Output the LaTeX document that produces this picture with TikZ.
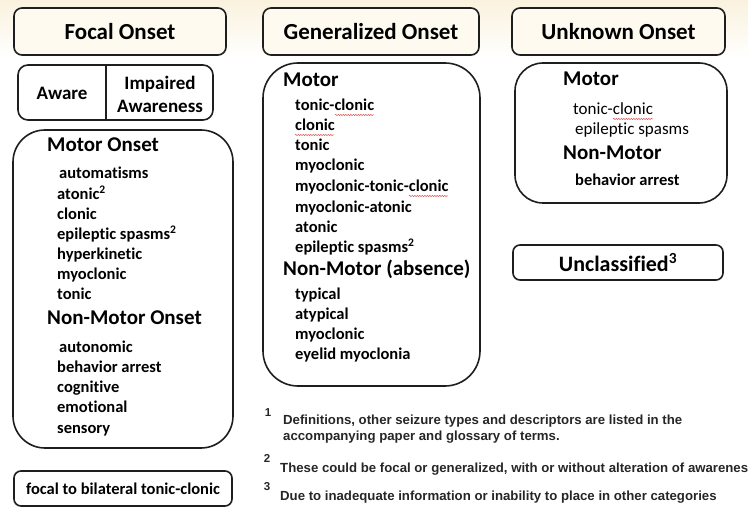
\documentclass[tikz,border=0pt]{standalone}
\usepackage{fontspec}
\setmainfont{Carlito}[Ligatures=NoCommon]
\newfontfamily\notefont{Liberation Sans}
\usetikzlibrary{decorations.pathmorphing}

\definecolor{bandcream}{RGB}{250,242,222}
\definecolor{hdrfill}{RGB}{254,250,240}
\definecolor{boxline}{RGB}{30,30,30}
\definecolor{spellred}{RGB}{215,70,70}

\begin{document}
\begin{tikzpicture}[x=1pt,y=-1pt,
    hdr/.style={draw=boxline,line width=1.6pt,rounded corners=8pt,fill=hdrfill,inner sep=0pt,
        font=\fontsize{23}{27}\bfseries\selectfont},
    grp/.style={draw=boxline,line width=1.6pt,inner sep=0pt},
    head/.style={anchor=west,inner sep=0pt,text height=0.7em,text depth=0.2em,
        font=\fontsize{21}{24}\bfseries\selectfont},
    itm/.style={head,font=\fontsize{16.5}{18}\bfseries\selectfont},
    litm/.style={head,font=\fontsize{17}{19}\selectfont},
    note/.style={head,text=black!85,font=\notefont\fontsize{13.2}{15}\bfseries\selectfont},
    fnum/.style={inner sep=0pt,text=black!85,font=\notefont\fontsize{11.5}{13}\bfseries\selectfont},
    squiggle/.style={draw=spellred,line width=0.5pt,
        decorate,decoration={snake,amplitude=0.6pt,segment length=2.5pt}}]
    \useasboundingbox (0,0) rectangle (748,508);

    % cream band at the top
    \shade[top color=bandcream,bottom color=white] (0,0) rectangle (748,58);

    % column headers
    \node[hdr,minimum width=212,minimum height=47] (focal) at (120,31.5) {Focal Onset};
    \node[hdr,minimum width=216,minimum height=47] (general) at (371,31.5) {Generalized Onset};
    \node[hdr,minimum width=213,minimum height=47] (unknown) at (618.5,31.5) {Unknown Onset};

    % aware / impaired awareness
    \node[grp,rounded corners=10pt,minimum width=195,minimum height=55] (aware) at (115.5,92.5) {};
    \coordinate (awdiv) at (106,92.5);
    \draw[boxline,line width=1.6pt] (awdiv |- aware.north) -- (awdiv |- aware.south);
    \node[font=\fontsize{19}{23}\bfseries\selectfont,inner sep=0pt] (awtxt) at (62,93) {Aware};
    \node[font=\fontsize{19}{23}\bfseries\selectfont,inner sep=0pt,align=center] (imptxt) at (160,94) {Impaired\\Awareness};

    % focal onset box
    \node[grp,rounded corners=32pt,minimum width=220,minimum height=318] (fbox) at (123,289) {};
    \node[head] (fmotor) at (47,149) {Motor Onset};
    \node[itm] (f1) at (59,176) {automatisms};
    \node[itm] (f2) at (57,197) {atonic\textsuperscript{2}};
    \node[itm] (f3) at (57,217) {clonic};
    \node[itm] (f4) at (57,237) {epileptic spasms\textsuperscript{2}};
    \node[itm] (f5) at (57,257) {hyperkinetic};
    \node[itm] (f6) at (57,277) {myoclonic};
    \node[itm] (f7) at (57,297) {tonic};
    \node[head] (fnonmotor) at (47,322) {Non-Motor Onset};
    \node[itm] (f8) at (59,350) {autonomic};
    \node[itm] (f9) at (57,370) {behavior arrest};
    \node[itm] (f10) at (57,390) {cognitive};
    \node[itm] (f11) at (57,410) {emotional};
    \node[itm] (f12) at (57,431) {sensory};

    % focal to bilateral
    \node[grp,rounded corners=7pt,minimum width=218,minimum height=35,
        font=\fontsize{16.5}{18}\bfseries\selectfont] (bilat) at (123,488.5) {focal to bilateral tonic-clonic};

    % generalized onset box
    \node[grp,rounded corners=35pt,minimum width=217,minimum height=323] (gbox) at (371.5,224.5) {};
    \node[head] (gmotor) at (283,84) {Motor};
    \node[itm] (g1) at (295,108) {tonic-clonic};
    \node[itm] (g2) at (295,128) {clonic};
    \node[itm] (g3) at (295,148) {tonic};
    \node[itm] (g4) at (295,168) {myoclonic};
    \node[itm] (g5) at (295,189) {myoclonic-tonic-clonic};
    \node[itm] (g6) at (295,210) {myoclonic-atonic};
    \node[itm] (g7) at (295,230) {atonic};
    \node[itm] (g8) at (295,250) {epileptic spasms\textsuperscript{2}};
    \node[head] (gnonmotor) at (283,273) {Non-Motor (absence)};
    \node[itm] (g9) at (295,297) {typical};
    \node[itm] (g10) at (295,317) {atypical};
    \node[itm] (g11) at (295,337) {myoclonic};
    \node[itm] (g12) at (295,357) {eyelid myoclonia};

    % unknown onset box
    \node[grp,rounded corners=28pt,minimum width=212,minimum height=140] (ubox) at (621,133) {};
    \node[head] (umotor) at (563,83) {Motor};
    \node[litm] (u1) at (573,112) {tonic-clonic};
    \node[litm] (u2) at (575,132) {epileptic spasms};
    \node[head] (unonmotor) at (563,157) {Non-Motor};
    \node[itm] (u3) at (575,183) {behavior arrest};

    % unclassified
    \node[grp,rounded corners=7pt,minimum width=210,minimum height=35,
        font=\fontsize{22}{26}\bfseries\selectfont] (unclass) at (618,262.5) {Unclassified\textsuperscript{3}};

    % spell check marks
    \draw[squiggle] (335,115) -- (374,115);
    \draw[squiggle] (295,135) -- (334,135);
    \draw[squiggle] (409,196) -- (448,196);
    \draw[squiggle] (613,119) -- (653,119);

    % footnotes
    \node[fnum] (n1) at (268,413) {1};
    \node[note] (note1) at (283,422) {Definitions, other seizure types and descriptors are listed in the};
    \node[note] (note1b) at (283,438) {accompanying paper and glossary of terms.};
    \node[fnum] (n2) at (267,458) {2};
    \node[note] (note2) at (280,470) {These could be focal or generalized, with or without alteration of awareness};
    \node[fnum] (n3) at (267,487) {3};
    \node[note] (note3) at (280,498) {Due to inadequate information or inability to place in other categories};
\end{tikzpicture}
\end{document}
